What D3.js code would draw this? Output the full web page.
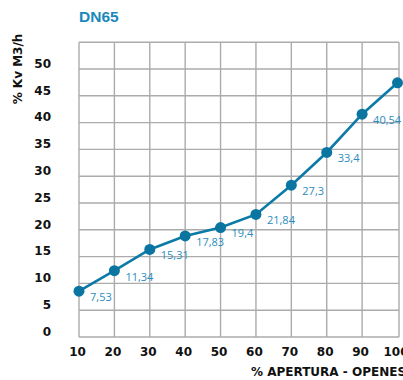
<!DOCTYPE html>
<html><head><meta charset="utf-8">
<script src="https://cdn.jsdelivr.net/npm/d3@7"></script>
<style>body{margin:0;background:#fff}svg{display:block}</style>
</head><body>
<svg id="c" width="403" height="380"></svg>
<script>
const apertura = [10, 20, 30, 40, 50, 60, 70, 80, 90, 100];
const kv = [7.53, 11.34, 15.31, 17.83, 19.4, 21.84, 27.3, 33.4, 40.54, 46.4];
const valueLabels = ["7,53", "11,34", "15,31", "17,83", "19,4", "21,84", "27,3", "33,4", "40,54", ""];
const xTicks = [10, 20, 30, 40, 50, 60, 70, 80, 90, 100];
const yTicks = [0, 5, 10, 15, 20, 25, 30, 35, 40, 45, 50];
const yGrid = [0, 5, 10, 15, 20, 25, 30, 35, 40, 45, 50, 55];
const title = "DN65";
const xTitle = "% APERTURA - OPENES";
const yTitle = "% Kv M3/h";

const svg = d3.select("#c");
const x = d3.scaleLinear().domain([10, 100]).range([79, 397.5]);
const y = d3.scaleLinear().domain([0, 55]).range([331.5, 36.7]);
const gOff = 5.5;
const gridColor = "#ababab";

const grid = svg.append("g");
grid.selectAll("line.h").data(yGrid).join("line")
  .attr("x1", x(10)).attr("x2", x(100) + 1.5)
  .attr("y1", d => y(d) + gOff).attr("y2", d => y(d) + gOff)
  .attr("stroke", gridColor).attr("stroke-width", 1.4);
grid.selectAll("line.v").data(xTicks).join("line")
  .attr("x1", d => x(d) + (d === 100 ? 1.5 : 0)).attr("x2", d => x(d) + (d === 100 ? 1.5 : 0))
  .attr("y1", y(55) + gOff).attr("y2", y(0) + gOff)
  .attr("stroke", gridColor).attr("stroke-width", 1.4);

svg.append("g").selectAll("text").data(yTicks).join("text")
  .attr("x", 51).attr("y", d => y(d)).attr("dy", "0.36em")
  .attr("text-anchor", "end")
  .attr("font-family", "DejaVu Sans").attr("font-weight", "bold").attr("font-size", 12)
  .attr("fill", "#111").text(d => d);

svg.append("g").selectAll("text").data(xTicks).join("text")
  .attr("x", d => x(d) - 1.5).attr("y", 356)
  .attr("text-anchor", "middle")
  .attr("font-family", "DejaVu Sans").attr("font-weight", "bold").attr("font-size", 12)
  .attr("fill", "#111").text(d => d);

const pts = apertura.map((a, i) => [a, kv[i], valueLabels[i]]);
svg.append("path").datum(pts)
  .attr("d", d3.line().x(d => x(d[0])).y(d => y(d[1])))
  .attr("fill", "none").attr("stroke", "#0b7aa6").attr("stroke-width", 2.6);

svg.append("g").selectAll("circle").data(pts).join("circle")
  .attr("cx", d => x(d[0])).attr("cy", d => y(d[1])).attr("r", 5.5)
  .attr("fill", "#0a75a0");

svg.append("g").selectAll("text").data(pts.filter(d => d[2])).join("text")
  .attr("x", d => x(d[0]) + 11).attr("y", d => y(d[1]) + 6).attr("dy", "0.36em")
  .attr("font-family", "Open Sans").attr("font-size", 11)
  .attr("fill", "#2a8cbe").text(d => d[2]);

svg.append("text").attr("x", 79).attr("y", 22)
  .attr("font-family", "Liberation Sans").attr("font-weight", "bold").attr("font-size", 15.5)
  .attr("fill", "#1a88ba").text(title);

svg.append("text").attr("x", 251).attr("y", 376)
  .attr("font-family", "DejaVu Sans").attr("font-weight", "bold").attr("font-size", 12)
  .attr("fill", "#111").text(xTitle);

svg.append("text").attr("transform", "translate(18,69) rotate(-90)")
  .attr("text-anchor", "middle").attr("dy", "0.36em")
  .attr("font-family", "DejaVu Sans").attr("font-weight", "bold").attr("font-size", 12)
  .attr("fill", "#111").text(yTitle);
</script>
</body></html>
